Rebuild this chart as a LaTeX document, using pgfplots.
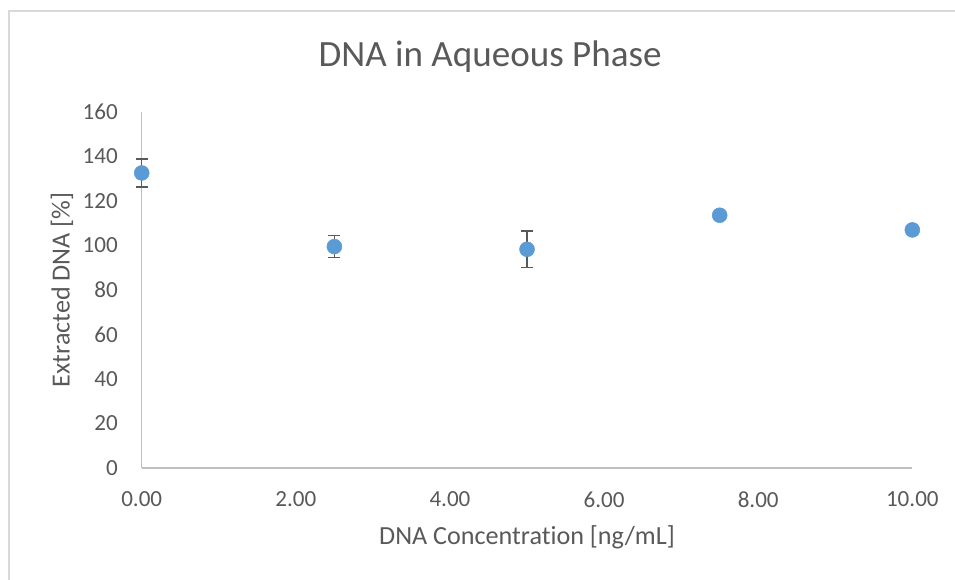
\documentclass[border=0pt]{standalone}
\usepackage{pgfplots}
\pgfplotsset{compat=1.18}
\usepackage{fontspec}
\setmainfont{Carlito}[Ligatures=NoCommon]
\definecolor{txt}{HTML}{595959}
\definecolor{axl}{HTML}{BFBFBF}
\definecolor{frm}{HTML}{D9D9D9}
\definecolor{blu}{HTML}{5B9BD5}
\begin{document}
\begin{tikzpicture}
\useasboundingbox (0,0) rectangle (716.25pt,435pt);
\draw[frm, line width=1.5pt] (6.75pt,-2pt) -- (6.75pt,426.75pt) -- (720pt,426.75pt);
\begin{axis}[
  at={(106.3pt,84pt)}, anchor=origin,
  scale only axis, width=577.95pt, height=267pt,
  xmin=0, xmax=10, ymin=0, ymax=160,
  xtick={0,2,4,6,8,10}, ytick={0,20,...,160},
  axis x line*=bottom, axis y line*=left,
  axis line style={axl, line width=1pt, -},
  major tick length=0pt,
  tick style={draw=none},
  clip=false,
  /pgf/number format/assume math mode=true,
  ticklabel style={font=\fontsize{17.3}{20}\selectfont, text=txt},
  xticklabel style={/pgf/number format/.cd, fixed, fixed zerofill, precision=2, /tikz/.cd, anchor=north, inner sep=0pt, yshift=-17.8pt},
  yticklabel style={anchor=east, inner sep=0pt, xshift=-17.8pt},
  xlabel={DNA Concentration [ng/mL]},
  ylabel={Extracted DNA [\%]},
  every axis x label/.style={at={(axis description cs:0.5,-0.1938)}, anchor=center, font=\fontsize{19.6}{22}\selectfont, text=txt},
  every axis y label/.style={at={(axis description cs:-0.1034,0.5)}, rotate=90, anchor=center, font=\fontsize{19.6}{22}\selectfont, text=txt},
  title={DNA in Aqueous Phase},
  every axis title/.style={at={(axis description cs:0.452,1.1545)}, anchor=center, font=\fontsize{27.8}{32}\selectfont, text=txt},
]
\addplot[only marks, mark=*, mark size=5.6pt, mark options={fill=blu, draw=blu},
  error bars/.cd, y dir=both, y explicit,
  error bar style={line width=1.1pt, color=txt},
  error mark options={rotate=90, mark size=4.5pt, line width=1.1pt, color=txt}]
  table[x=x, y=y, y error=e] {
x y e
0 132.6 6.3
2.5 99.5 5.0
5 98.3 8.3
7.5 113.6 0.5
10 107.0 0.8
};
\end{axis}
\end{tikzpicture}
\end{document}
